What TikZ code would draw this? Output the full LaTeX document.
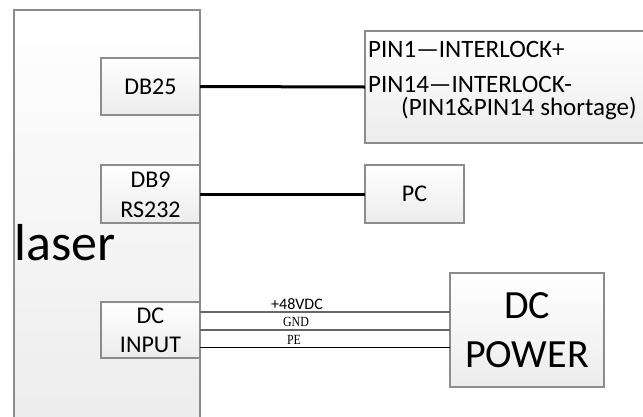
\documentclass[tikz,border=0pt]{standalone}
\usepackage{fontspec}
\setmainfont{Carlito}
\newfontfamily\serifsmall{Liberation Serif}
\definecolor{boxline}{HTML}{8C8C8C}
\definecolor{boxbot}{HTML}{ECECEC}
\tikzset{
  blk/.style={draw=boxline, line width=1.2pt, top color=white, bottom color=boxbot},
  txt/.style={inner sep=0pt, anchor=base},
  txtw/.style={inner sep=0pt, anchor=base west},
  thickwire/.style={line width=3pt, black},
  wire/.style={line width=1.3pt}
}
\begin{document}
\begin{tikzpicture}[x=1pt,y=-1pt]
\useasboundingbox (0,0) rectangle (643,416);
% boxes
\begin{scope}
\clip (0,0) rectangle (643,416);
\draw[blk] (14,10) rectangle (200,430);
\draw[blk] (365,31) rectangle (660,143);
\end{scope}
\draw[blk] (101,58) rectangle (200,115);
\draw[blk] (101,165) rectangle (200,223);
\draw[blk] (365,165) rectangle (464,223);
\draw[blk] (101,302) rectangle (200,358);
\draw[blk] (450,273) rectangle (604,387);

\node[inner sep=0pt, minimum width=99pt, minimum height=57pt] (db25box) at (150.5,86.5) {};
\node[inner sep=0pt, minimum width=99pt, minimum height=58pt] (db9box) at (150.5,194) {};
\node[inner sep=0pt, minimum width=99pt, minimum height=58pt] (pcbox) at (414.5,194) {};
\node[inner sep=0pt, minimum width=99pt, minimum height=56pt] (dcin) at (150.5,330) {};
\node[inner sep=0pt, minimum width=154pt, minimum height=114pt] (dcpow) at (527,330) {};
\coordinate (ilkL) at (365,87);

% texts
\node[inner sep=0pt] (t25) at (150.5,87) {\fontsize{24}{28}\selectfont DB25};
\node[txt] (t9) at (150.5,187) {\fontsize{24}{28}\selectfont DB9};
\node[txt] (t232) at (150.5,217) {\fontsize{24}{28}\selectfont RS232};
\node[inner sep=0pt] (tpc) at (414.5,194) {\fontsize{24}{28}\selectfont PC};
\node[txt] (tdc) at (150.5,323) {\fontsize{24}{28}\selectfont DC};
\node[txt] (tin) at (150.5,352) {\fontsize{24}{28}\selectfont INPUT};
\node[txt] (tdc2) at (527,318) {\fontsize{40}{44}\selectfont DC};
\node[txt] (tpow) at (527,367) {\fontsize{40}{44}\selectfont POWER};
\node[txtw] (tlaser) at (14,260) {\fontsize{52}{56}\selectfont laser};
\node[txtw] (p1) at (368,57) {\fontsize{25}{28}\selectfont PIN1—INTERLOCK+};
\node[txtw] (p14) at (368,92) {\fontsize{25}{28}\selectfont PIN14—INTERLOCK-};
\node[txtw] (p3) at (401,115) {\fontsize{25}{28}\selectfont (PIN1\&PIN14 shortage)};

% wires
\draw[thickwire] (db25box.east) -- (ilkL);
\draw[thickwire] (db9box.east) -- (pcbox.west);
\draw[wire, gray!80!black] (dcin.east |- 0,312) -- (dcpow.west |- 0,312);
\draw[wire, line width=1.8pt, gray!80!black] (dcin.east |- 0,330) -- (dcpow.west |- 0,330);
\draw[wire, black, line width=1pt] (dcin.east |- 0,347) -- (dcpow.west |- 0,347);
\node[txt] (l48) at (297,309) {\fontsize{16}{18}\selectfont +48VDC};
\node[txt] (lgnd) at (296,326) {\serifsmall\scalebox{0.85}[1]{\fontsize{14}{16}\selectfont GND}};
\node[txt] (lpe) at (294,344) {\serifsmall\scalebox{0.85}[1]{\fontsize{14}{16}\selectfont PE}};
\end{tikzpicture}
\end{document}
